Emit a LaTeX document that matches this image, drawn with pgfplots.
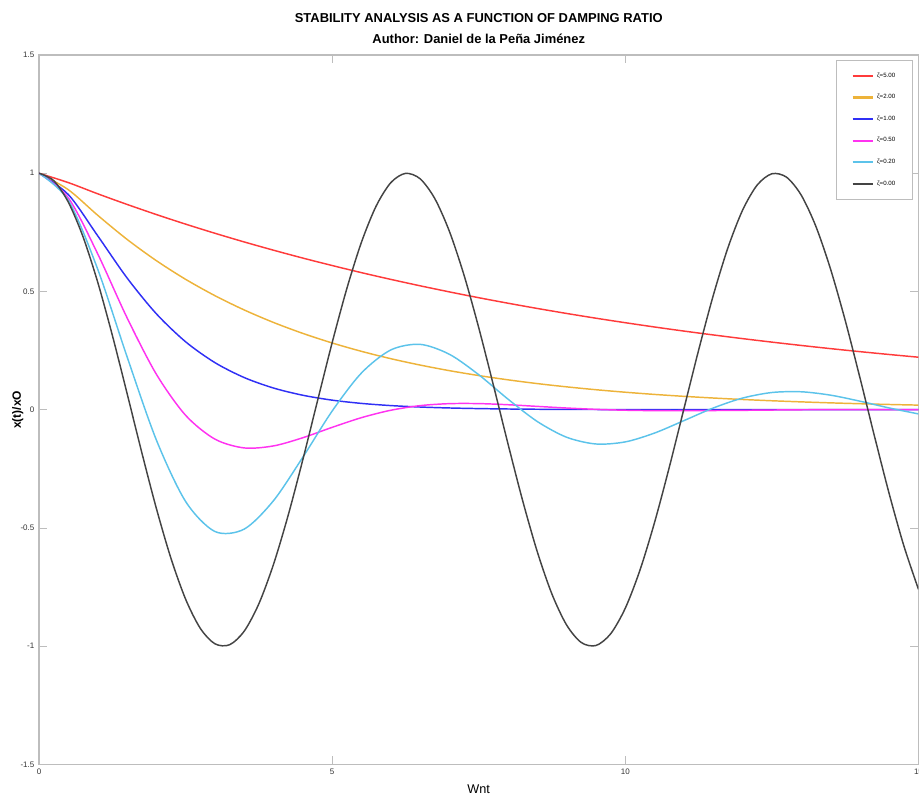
\documentclass[border=0pt]{standalone}
\usepackage{pgfplots}
\pgfplotsset{compat=1.18}
\usepackage{fontspec}
\setmainfont{Liberation Sans}
\usetikzlibrary{calc}

\definecolor{cz5}{HTML}{FF3B3B}
\definecolor{cz2}{HTML}{EDB33A}
\definecolor{cz1}{HTML}{3030F5}
\definecolor{cz05}{HTML}{FF33F0}
\definecolor{cz02}{HTML}{5CC3EA}
\definecolor{cz0}{HTML}{444444}
\definecolor{axgray}{HTML}{BDBDBD}
\definecolor{txtgray}{HTML}{333333}

\begin{document}
\begin{tikzpicture}
\begin{axis}[
  name=ax,
  width=659.25pt, height=531.75pt, scale only axis,
  xmin=0, xmax=15, ymin=-1.5, ymax=1.5,
  xtick={0,5,10,15},
  ytick={-1.5,-1,-0.5,0,0.5,1,1.5},
  /pgf/number format/assume math mode=true,
  tick label style={font=\fontsize{6}{7}\selectfont, text=txtgray},
  axis line style={axgray, line width=0.8pt},
  tick style={axgray, line width=0.6pt},
  tick align=inside,
  major tick length=6pt,
  title={STABILITY ANALYSIS AS A FUNCTION OF DAMPING RATIO\\Author: Daniel de la Peña Jiménez},
  title style={font=\bfseries\fontsize{9.7}{15.75}\selectfont, align=center,
    at={(axis description cs:0.5,1)}, anchor=south, yshift=-1pt},
  xlabel={Wnt},
  xlabel style={font=\fontsize{9.5}{10}\selectfont, at={(axis description cs:0.5,0)},
    anchor=center, yshift=-18.75pt},
  ylabel={x(t)/xO},
  ylabel style={font=\bfseries\fontsize{9}{10}\selectfont, at={(axis description cs:0,0.5)},
    anchor=center, yshift=16pt},
  legend style={at={(rel axis cs:1,1)}, anchor=north east, xshift=-3.75pt, yshift=-3.75pt,
    draw=axgray, line width=0.8pt, font=\fontsize{4.6}{5}\selectfont,
    row sep=7.4pt, inner xsep=11.25pt, inner ysep=7pt},
  legend cell align=left,
  legend image code/.code={\draw[#1, line width=1.6pt] (0pt,0pt) -- (15.5pt,0pt);},
  every axis plot/.append style={line width=1.1pt, smooth},
]
\addplot[cz5] coordinates {
(0,1)(0.5,0.9604)(1,0.9132)(1.5,0.8683)(2,0.8255)(2.5,0.7848)(3,0.7462)
(3.5,0.7094)(4,0.6745)(4.5,0.6412)(5,0.6097)(5.5,0.5796)(6,0.5511)(6.5,0.5240)(7,0.4982)
(7.5,0.4736)(8,0.4503)(8.5,0.4281)(9,0.4070)(9.5,0.3869)(10,0.3679)(10.5,0.3497)(11,0.3325)
(11.5,0.3162)(12,0.3006)(12.5,0.2858)(13,0.2717)(13.5,0.2583)(14,0.2456)(14.5,0.2335)(15,0.2220)
};
\addlegendentry{ζ=5.00}
\addplot[cz2] coordinates {
(0,1)(0.5,0.9303)(1,0.8224)(1.5,0.7206)(2,0.6305)(2.5,0.5514)(3,0.4823)
(3.5,0.4218)(4,0.3689)(4.5,0.3227)(5,0.2822)(5.5,0.2468)(6,0.2158)(6.5,0.1888)(7,0.1651)
(7.5,0.1444)(8,0.1263)(8.5,0.1104)(9,0.0966)(9.5,0.0845)(10,0.0739)(10.5,0.0646)(11,0.0565)
(11.5,0.0494)(12,0.0432)(12.5,0.0378)(13,0.0331)(13.5,0.0289)(14,0.0253)(14.5,0.0221)(15,0.0194)
};
\addlegendentry{ζ=2.00}
\addplot[cz1] coordinates {
(0,1)(0.5,0.9098)(1,0.7358)(1.5,0.5578)(2,0.4060)(2.5,0.2873)
(3,0.1991)(3.5,0.1359)(4,0.0916)(4.5,0.0611)(5,0.0404)(5.5,0.0266)(6,0.0174)(6.5,0.0113)
(7,0.0073)(7.5,0.0047)(8,0.0030)(8.5,0.0019)(9,0.0012)(9.5,0.0008)(10,0.0005)(11,0.0002)
(12,0.0001)(13,0)(14,0)(15,0)
};
\addlegendentry{ζ=1.00}
\addplot[cz05] coordinates {
(0,1)(0.5,0.8956)(1,0.6597)(1.5,0.3896)(2,0.1506)(2.5,-0.0236)(3,-0.1244)
(3.5,-0.1617)(4,-0.1531)(4.5,-0.1185)(5,-0.0746)(5.5,-0.0336)(6,-0.0023)
(6.5,0.0172)(7,0.0256)(7.5,0.0258)(8,0.0210)(8.5,0.0140)(9,0.0071)(9.5,0.0015)(10,-0.0022)
(10.5,-0.0040)(11,-0.0043)(12,-0.0026)(13,-0.0003)(14,0.0005)(15,0.0004)
};
\addlegendentry{ζ=0.50}
\addplot[cz02] coordinates {
(0,1)(0.5,0.8854)(1,0.5949)(1.5,0.2253)(2,-0.1272)(2.5,-0.3880)(3,-0.5151)
(3.5,-0.5049)(4,-0.3845)(4.5,-0.2007)(5,-0.0056)(5.5,0.1554)(6,0.2527)
(6.5,0.2763)(7,0.2343)(7.5,0.1479)(8,0.0444)(8.5,-0.0502)(9,-0.1166)(9.5,-0.1450)
(10,-0.1361)(10.5,-0.0986)(11,-0.0461)(11.5,0.0072)(12,0.0492)(12.5,0.0727)(13,0.0758)
(13.5,0.0615)(14,0.0361)(14.5,0.0074)(15,-0.0178)
};
\addlegendentry{ζ=0.20}
\addplot[cz0] coordinates {
(0,1)(0.25,0.9689)(0.5,0.8776)(0.75,0.7317)(1,0.5403)(1.25,0.3153)(1.5,0.0707)(1.75,-0.1782)
(2,-0.4161)(2.25,-0.6282)(2.5,-0.8011)(2.75,-0.9243)(3,-0.9900)(3.25,-0.9941)(3.5,-0.9365)
(3.75,-0.8206)(4,-0.6536)(4.25,-0.4461)(4.5,-0.2108)(4.75,0.0376)(5,0.2837)(5.25,0.5122)
(5.5,0.7087)(5.75,0.8612)(6,0.9602)(6.25,0.9994)(6.5,0.9766)(6.75,0.8930)(7,0.7539)
(7.25,0.5681)(7.5,0.3466)(7.75,0.1038)(8,-0.1455)(8.25,-0.3857)(8.5,-0.6020)(8.75,-0.7808)
(9,-0.9111)(9.25,-0.9848)(9.5,-0.9972)(9.75,-0.9476)(10,-0.8391)(10.25,-0.6783)(10.5,-0.4755)
(10.75,-0.2432)(11,0.0044)(11.25,0.2518)(11.5,0.4833)(11.75,0.6848)(12,0.8439)(12.25,0.9504)
(12.5,0.9978)(12.75,0.9832)(13,0.9074)(13.25,0.7753)(13.5,0.5949)(13.75,0.3780)(14,0.1367)
(14.25,-0.1126)(14.5,-0.3549)(14.75,-0.5752)(15,-0.7597)
};
\addlegendentry{ζ=0.00}
\end{axis}
\pgfresetboundingbox
\path[use as bounding box] ($(ax.south west)+(-29.25pt,-27.75pt)$) rectangle ($(ax.north east)+(0.4pt,41.25pt)$);
\end{tikzpicture}
\end{document}
